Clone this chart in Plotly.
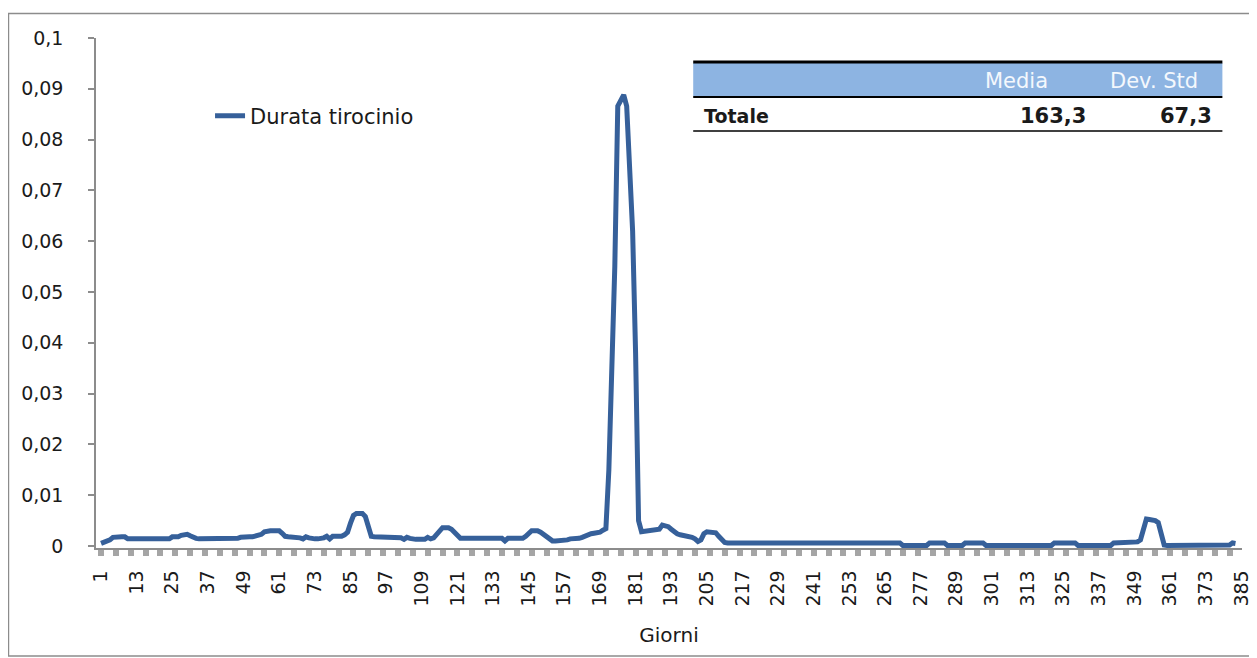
import plotly.graph_objects as go

# ---- data ----
series_name = "Durata tirocinio"
day_values = [
    0.0005, 0.0007, 0.0009, 0.0012, 0.0017, 0.0018, 0.0018, 0.0018, 0.0018, 0.0014, 0.0014, 0.0014,  # 1-12
    0.0014, 0.0014, 0.0014, 0.0014, 0.0014, 0.0014, 0.0014, 0.0014, 0.0014, 0.0014, 0.0014, 0.0014,  # 13-24
    0.0018, 0.0018, 0.0018, 0.0021, 0.0023, 0.0023, 0.0020, 0.0017, 0.0015, 0.0014, 0.0014, 0.0014,  # 25-36
    0.0014, 0.0014, 0.0014, 0.0014, 0.0014, 0.0014, 0.0014, 0.0014, 0.0014, 0.0014, 0.0015, 0.0017,  # 37-48
    0.0018, 0.0018, 0.0018, 0.0018, 0.0019, 0.0021, 0.0023, 0.0028, 0.0030, 0.0030, 0.0030, 0.0030,  # 49-60
    0.0030, 0.0025, 0.0019, 0.0018, 0.0018, 0.0018, 0.0018, 0.0016, 0.0014, 0.0018, 0.0016, 0.0014,  # 61-72
    0.0014, 0.0014, 0.0014, 0.0016, 0.0019, 0.0014, 0.0019, 0.0019, 0.0019, 0.0019, 0.0022, 0.0027,  # 73-84
    0.0045, 0.0060, 0.0064, 0.0064, 0.0064, 0.0058, 0.0035, 0.0019, 0.0018, 0.0018, 0.0018, 0.0018,  # 85-96
    0.0018, 0.0018, 0.0018, 0.0018, 0.0018, 0.0016, 0.0013, 0.0017, 0.0015, 0.0013, 0.0013, 0.0013,  # 97-108
    0.0013, 0.0013, 0.0017, 0.0014, 0.0016, 0.0022, 0.0030, 0.0036, 0.0036, 0.0036, 0.0033, 0.0027,  # 109-120
    0.0021, 0.0015, 0.0015, 0.0015, 0.0015, 0.0015, 0.0015, 0.0015, 0.0015, 0.0015, 0.0015, 0.0015,  # 121-132
    0.0015, 0.0015, 0.0015, 0.0015, 0.0010, 0.0015, 0.0015, 0.0015, 0.0015, 0.0015, 0.0015, 0.0019,  # 133-144
    0.0024, 0.0030, 0.0030, 0.0030, 0.0027, 0.0023, 0.0018, 0.0014, 0.0010, 0.0010, 0.0010, 0.0010,  # 145-156
    0.0010, 0.0012, 0.0014, 0.0014, 0.0014, 0.0015, 0.0017, 0.0020, 0.0021, 0.0024, 0.0025, 0.0026,  # 157-168
    0.0027, 0.0031, 0.0034, 0.0150, 0.0340, 0.0550, 0.0866, 0.0878, 0.0888, 0.0866, 0.0750, 0.0620,  # 169-180
    0.0380, 0.0050, 0.0028, 0.0029, 0.0029, 0.0029, 0.0031, 0.0031, 0.0033, 0.0041, 0.0040, 0.0038,  # 181-192
    0.0033, 0.0028, 0.0024, 0.0022, 0.0021, 0.0021, 0.0019, 0.0017, 0.0014, 0.0009, 0.0012, 0.0024,  # 193-204
    0.0028, 0.0028, 0.0028, 0.0026, 0.0019, 0.0012, 0.0007, 0.0006, 0.0006, 0.0006, 0.0006, 0.0006,  # 205-216
    0.0006, 0.0006, 0.0006, 0.0006, 0.0006, 0.0006, 0.0006, 0.0006, 0.0006, 0.0006, 0.0006, 0.0006,  # 217-228
    0.0006, 0.0006, 0.0006, 0.0006, 0.0006, 0.0006, 0.0006, 0.0006, 0.0006, 0.0006, 0.0006, 0.0006,  # 229-240
    0.0006, 0.0006, 0.0006, 0.0006, 0.0006, 0.0006, 0.0006, 0.0006, 0.0006, 0.0006, 0.0006, 0.0006,  # 241-252
    0.0006, 0.0006, 0.0006, 0.0006, 0.0006, 0.0006, 0.0006, 0.0006, 0.0006, 0.0006, 0.0006, 0.0006,  # 253-264
    0.0006, 0.0006, 0.0006, 0.0006, 0.0006, 0.0006, 0.0001, 0.0001, 0.0001, 0.0001, 0.0001, 0.0001,  # 265-276
    0.0001, 0.0001, 0.0001, 0.0006, 0.0006, 0.0006, 0.0006, 0.0006, 0.0006, 0.0001, 0.0001, 0.0001,  # 277-288
    0.0001, 0.0001, 0.0001, 0.0006, 0.0006, 0.0006, 0.0006, 0.0006, 0.0006, 0.0006, 0.0001, 0.0001,  # 289-300
    0.0001, 0.0001, 0.0001, 0.0001, 0.0001, 0.0001, 0.0001, 0.0001, 0.0001, 0.0001, 0.0001, 0.0001,  # 301-312
    0.0001, 0.0001, 0.0001, 0.0001, 0.0001, 0.0001, 0.0001, 0.0001, 0.0001, 0.0006, 0.0006, 0.0006,  # 313-324
    0.0006, 0.0006, 0.0006, 0.0006, 0.0006, 0.0001, 0.0001, 0.0001, 0.0001, 0.0001, 0.0001, 0.0001,  # 325-336
    0.0001, 0.0001, 0.0001, 0.0001, 0.0001, 0.0006, 0.0006, 0.0006, 0.0006, 0.0006, 0.0006, 0.0006,  # 337-348
    0.0006, 0.0008, 0.0012, 0.0035, 0.0053, 0.0052, 0.0051, 0.0050, 0.0046, 0.0022, 0.0002, 0.0001,  # 349-360
    0.0001, 0.0001, 0.0001, 0.0001, 0.0001, 0.0001, 0.0001, 0.0001, 0.0001, 0.0001, 0.0001, 0.0001,  # 361-372
    0.0001, 0.0001, 0.0001, 0.0001, 0.0001, 0.0001, 0.0001, 0.0001, 0.0002, 0.0006, 0.0005,          # 373-383
]
days = list(range(1, len(day_values) + 1))

x_tick_values = [1, 13, 25, 37, 49, 61, 73, 85, 97, 109, 121, 133, 145, 157, 169, 181, 193, 205,
                 217, 229, 241, 253, 265, 277, 289, 301, 313, 325, 337, 349, 361, 373, 385]
x_tick_labels = [str(v) for v in x_tick_values]
y_tick_values = [0, 0.01, 0.02, 0.03, 0.04, 0.05, 0.06, 0.07, 0.08, 0.09, 0.1]
y_tick_labels = ["0", "0,01", "0,02", "0,03", "0,04", "0,05", "0,06", "0,07", "0,08", "0,09", "0,1"]
x_title = "Giorni"

table_header = ["", "Media", "Dev. Std"]
table_row = ["Totale", "163,3", "67,3"]

# ---- styling ----
FONT = "DejaVu Sans"
LINE_BLUE = "#36609A"
AXIS_GREY = "#8C8C8C"
TEXT = "#1A1A1A"

OFF = 8  # page body margin of the browser
W, H = 1257 - OFF, 658 - OFF
ML, MT = 96 - OFF, 38 - OFF
PLOT_RIGHT, PLOT_BOTTOM = 1241.6 - OFF, 548 - OFF
MR, MB = W - PLOT_RIGHT, H - PLOT_BOTTOM
PW, PH = PLOT_RIGHT - ML, PLOT_BOTTOM - MT


def px_x(p):  # screen pixel (reference) -> paper x
    return (p - OFF - ML) / PW


def px_y(p):  # screen pixel (reference) -> paper y
    return (PLOT_BOTTOM - (p - OFF)) / PH


fig = go.Figure()
fig.add_trace(go.Scatter(
    x=days, y=day_values, mode="lines", name=series_name,
    line=dict(color=LINE_BLUE, width=5),
))

fig.update_layout(
    width=W, height=H,
    margin=dict(l=ML, r=MR, t=MT, b=MB, autoexpand=False),
    paper_bgcolor="white", plot_bgcolor="white",
    font=dict(family=FONT, size=19, color=TEXT),
    showlegend=True,
    legend=dict(x=px_x(210), y=px_y(116), xanchor="left", yanchor="middle",
                bgcolor="rgba(0,0,0,0)", font=dict(size=21, family=FONT, color=TEXT)),
)

fig.update_xaxes(
    range=[-0.7, 385.2], tickmode="array", tickvals=x_tick_values, ticktext=x_tick_labels,
    tickangle=-90, ticks="", showgrid=False, zeroline=False,
    showline=True, linecolor=AXIS_GREY, linewidth=1.5,
    tickfont=dict(size=19, family=FONT, color=TEXT), ticklabelstandoff=13,
    minor=dict(ticks="outside", tick0=1, dtick=5, ticklen=6, tickwidth=6, tickcolor="#A5A5A5", showgrid=False),
    title=dict(text=x_title, font=dict(size=20, family=FONT, color=TEXT), standoff=22),
    automargin=False,
)
fig.update_yaxes(
    range=[-0.0004, 0.1], tickmode="array", tickvals=y_tick_values, ticktext=y_tick_labels,
    ticks="outside", ticklen=6, tickwidth=1.5, tickcolor=AXIS_GREY,
    showgrid=False, zeroline=False, showline=True, linecolor=AXIS_GREY, linewidth=1.5,
    tickfont=dict(size=19, family=FONT, color=TEXT), ticklabelstandoff=21,
    automargin=False,
)

shapes = []
# outer chart border
shapes.append(dict(type="rect", xref="paper", yref="paper",
                   x0=px_x(8.5), x1=px_x(1255), y0=px_y(656), y1=px_y(13.5),
                   line=dict(color=AXIS_GREY, width=1.5), fillcolor="rgba(0,0,0,0)", layer="below"))
# table: header fill and rules
tx0, tx1 = px_x(693), px_x(1222)
shapes.append(dict(type="rect", xref="paper", yref="paper", x0=tx0, x1=tx1,
                   y0=px_y(96), y1=px_y(63), line=dict(width=0), fillcolor="#8DB4E2"))
for yy, lw in [(62, 3), (97, 2), (131, 1.5)]:
    shapes.append(dict(type="line", xref="paper", yref="paper", x0=tx0, x1=tx1,
                       y0=px_y(yy), y1=px_y(yy), line=dict(color="black", width=lw)))
fig.update_layout(shapes=shapes)

annotations = [
    dict(text=table_header[1], x=px_x(1050), y=px_y(81), xanchor="right", yanchor="middle",
         font=dict(size=21, family=FONT, color="#F4F8FD")),
    dict(text=table_header[2], x=px_x(1200), y=px_y(81), xanchor="right", yanchor="middle",
         font=dict(size=21, family=FONT, color="#F4F8FD")),
    dict(text="<b>%s</b>" % table_row[0], x=px_x(702), y=px_y(116), xanchor="left", yanchor="middle",
         font=dict(size=19, family=FONT, color=TEXT)),
    dict(text="<b>%s</b>" % table_row[1], x=px_x(1088), y=px_y(116), xanchor="right", yanchor="middle",
         font=dict(size=21, family=FONT, color=TEXT)),
    dict(text="<b>%s</b>" % table_row[2], x=px_x(1214), y=px_y(116), xanchor="right", yanchor="middle",
         font=dict(size=21, family=FONT, color=TEXT)),
]
for a in annotations:
    a.update(xref="paper", yref="paper", showarrow=False)
fig.update_layout(annotations=annotations)

fig.write_html("out.html")
